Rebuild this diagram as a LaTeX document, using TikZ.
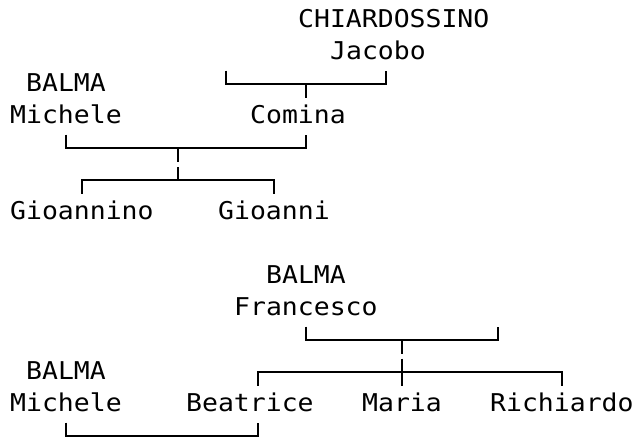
\documentclass[tikz,border=0pt]{standalone}
\usepackage{fontspec}
\newfontfamily\treefont[FakeStretch=1.08]{DejaVu Sans Mono}
\newcommand{\ticklen}{13.5pt}
\tikzset{
  tree diagram/.style={x=16pt, y=-32pt, line cap=butt, line join=miter},
  tree name/.style={font=\treefont\fontsize{24.5}{30}\selectfont,
    anchor=base west, inner sep=0pt},
  tree line/.style={draw=black, line width=1.9pt}
}

\begin{document}
\begin{tikzpicture}[tree diagram]
\useasboundingbox (-0.625,-0.625) rectangle (39.1875,13.03125);
% first family
\node[tree name] (chiardossino) at (18,0.22) {CHIARDOSSINO};
\node[tree name] (jacobo) at (20,1.22) {Jacobo};
\node[tree name] (balmaA) at (1,2.22) {BALMA};
\node[tree name] (micheleA) at (0,3.22) {Michele};
\node[tree name] (comina) at (15,3.22) {Comina};
\node[tree name] (gioannino) at (0,6.22) {Gioannino};
\node[tree name] (gioanni) at (13,6.22) {Gioanni};
\coordinate (jacobo w) at (13.5,2);
\coordinate (jacobo e) at (23.5,2);
\coordinate (jacobo s) at (18.5,2);
\draw[tree line] ([yshift=\ticklen]jacobo w) -- (jacobo w) -- (jacobo e) -- ([yshift=\ticklen]jacobo e);
\draw[tree line] (jacobo s) -- ([yshift=-\ticklen]jacobo s);
\coordinate (couple w) at (3.5,4);
\coordinate (couple e) at (18.5,4);
\coordinate (couple s) at (10.5,4);
\draw[tree line] ([yshift=\ticklen]couple w) -- (couple w) -- (couple e) -- ([yshift=\ticklen]couple e);
\draw[tree line] (couple s) -- ([yshift=-\ticklen]couple s);
\coordinate (kids w) at (4.5,5);
\coordinate (kids e) at (16.5,5);
\coordinate (kids n) at (10.5,5);
\draw[tree line] ([yshift=-\ticklen]kids w) -- (kids w) -- (kids e) -- ([yshift=-\ticklen]kids e);
\draw[tree line] (kids n) -- ([yshift=\ticklen]kids n);
% second family
\node[tree name] (balmaB) at (16,8.22) {BALMA};
\node[tree name] (francesco) at (14,9.22) {Francesco};
\node[tree name] (balmaC) at (1,11.22) {BALMA};
\node[tree name] (micheleB) at (0,12.22) {Michele};
\node[tree name] (beatrice) at (11,12.22) {Beatrice};
\node[tree name] (maria) at (22,12.22) {Maria};
\node[tree name] (richiardo) at (30,12.22) {Richiardo};
\coordinate (francesco w) at (18.5,10);
\coordinate (francesco e) at (30.5,10);
\coordinate (francesco s) at (24.5,10);
\draw[tree line] ([yshift=\ticklen]francesco w) -- (francesco w) -- (francesco e) -- ([yshift=\ticklen]francesco e);
\draw[tree line] (francesco s) -- ([yshift=-\ticklen]francesco s);
\coordinate (children w) at (15.5,11);
\coordinate (children e) at (34.5,11);
\coordinate (children x) at (24.5,11);
\draw[tree line] ([yshift=-\ticklen]children w) -- (children w) -- (children e) -- ([yshift=-\ticklen]children e);
\draw[tree line] ([yshift=\ticklen]children x) -- ([yshift=-\ticklen]children x);
\coordinate (marriage w) at (3.5,13);
\coordinate (marriage e) at (15.5,13);
\draw[tree line] ([yshift=\ticklen]marriage w) -- (marriage w) -- (marriage e) -- ([yshift=\ticklen]marriage e);
\end{tikzpicture}
\end{document}
